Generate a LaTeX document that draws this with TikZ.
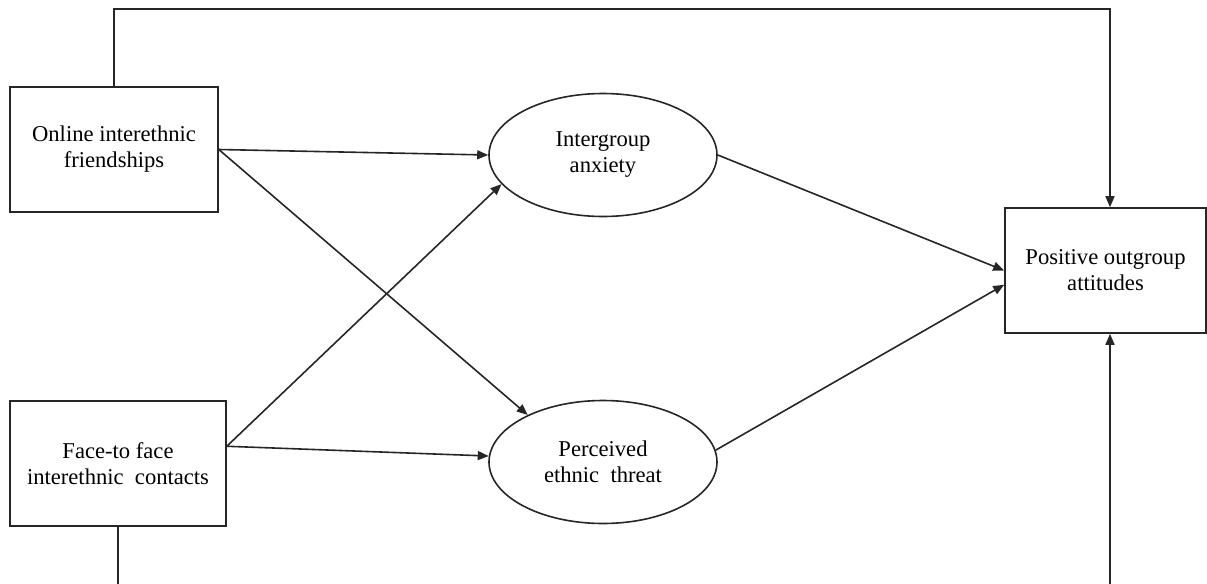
\documentclass[tikz,border=0pt]{standalone}
\usepackage{fontspec}
\setmainfont{Liberation Serif}
\usetikzlibrary{arrows.meta,shapes.geometric}
\begin{document}
\begin{tikzpicture}[x=0.5pt,y=-0.5pt]
        \tikzstyle{measure}=[rectangle,draw=black!85,line width=0.8pt,align=center,inner sep=0pt,font=\fontsize{11.3}{13}\selectfont,minimum height=62.5pt]
        \tikzstyle{latent}=[ellipse,draw=black!85,line width=0.8pt,align=center,inner sep=0pt,font=\fontsize{11.3}{13}\selectfont,minimum width=114pt,minimum height=61.5pt]
        \tikzstyle{edge}=[draw, line width=0.8pt, black!85, -{Triangle[length=5.5pt,width=4.5pt]}]
        \useasboundingbox (0,0) rectangle (1207,584);
        \begin{scope}
                \node [measure,minimum width=104pt] (online) at (114,149.5) {Online interethnic\\friendships};
                \node [measure,minimum width=108pt] (face) at (118,463.5) {Face-to face\\interethnic\ \ contacts};
                \node [measure,minimum width=100.5pt] (pos) at (1105.5,270.5) {Positive outgroup\\attitudes};
                \node [latent] (anx) at (603,155) {Intergroup\\anxiety};
                \node [latent] (thr) at (603,462) {Perceived\\ethnic\ \ threat};
                \coordinate (tr) at (1110,9);
                \coordinate (bl) at (118,584);
                \coordinate (br) at (1110,584);
                \path (online.east) edge [edge] (anx.west);
                \path (online.east) edge [edge] (thr.148);
                \path (face.9) edge [edge] (anx.196);
                \path (face.9) edge [edge] (thr.177);
                \path (anx.east) edge [edge] (pos.west);
                \path (thr.6) edge [edge] (pos.188);
                \draw[edge] (online.north) |- (tr) -- (tr |- pos.north);
                \draw[line width=0.8pt, black!85] (face.south) -- (bl);
                \draw[edge] (br) -- (br |- pos.south);
        \end{scope}
\end{tikzpicture}
\end{document}
